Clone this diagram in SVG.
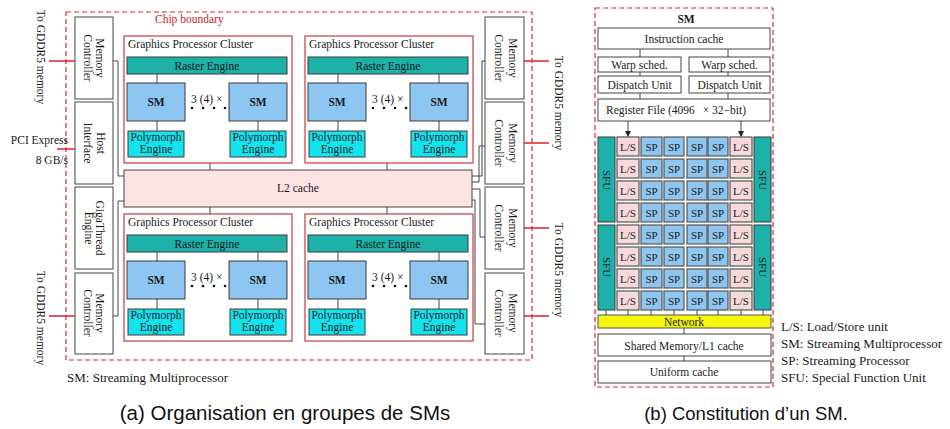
<svg xmlns="http://www.w3.org/2000/svg" width="950" height="429" viewBox="0 0 950 429">
  <defs>
    <style>
      text { font-family: "Liberation Serif", "Times New Roman", serif; fill: #1a1a1a; font-size: 11.5px; }
      .c { text-anchor: middle; }
      .e { text-anchor: end; }
      .b { font-weight: bold; }
      .lg { font-size: 13px; }
      .cap { font-family: "Liberation Sans", Arial, sans-serif; fill: #111; }
      .box { fill: #fff; stroke: #444; stroke-width: 1; }
      .gpc { fill: #fff; stroke: #c8393b; stroke-width: 1.2; }
      .raster { fill: #1db1a9; stroke: #3a3a3a; stroke-width: 1; }
      .smb { fill: #8dc6f1; stroke: #3a3a3a; stroke-width: 1; }
      .poly { fill: #14e3ee; stroke: #3a3a3a; stroke-width: 1; }
      .l2 { fill: #fde3e3; stroke: #444; stroke-width: 1; }
      .ls { fill: #f7d9db; stroke: #555; stroke-width: 1.2; }
      .sp { fill: #8ec6ef; stroke: #555; stroke-width: 1.2; }
      .sfu { fill: #1db1a9; stroke: #3a3a3a; stroke-width: 1; }
      .net { fill: #f4f40c; stroke: #555; stroke-width: 1; }
      .wire { fill: none; stroke: #444; stroke-width: 1; }
      .io { stroke: #e0202a; stroke-width: 1.6; }
      .dash { fill: none; stroke: #d42a36; stroke-width: 1.2; stroke-dasharray: 5 3; }
      .cell { font-size: 11px; }
    </style>
    <marker id="arr" viewBox="0 0 6 6" refX="5" refY="3" markerWidth="6" markerHeight="6" orient="auto">
      <path d="M0,0 L6,3 L0,6 Z" fill="#222"/>
    </marker>
  </defs>

  <!-- ===== Panel (a): GPU chip ===== -->
  <g id="chip-boundary">
    <rect class="dash" x="66" y="12" width="466" height="348"/>
    <text x="155" y="23" style="fill:#c8202a">Chip boundary</text>
  </g>

  <!-- left column -->
  <g id="mc-left-top">
    <rect class="box" x="75" y="17" width="38" height="82"/>
    <text class="c" transform="translate(95.5,58) rotate(90)">Memory</text>
    <text class="c" transform="translate(83.5,58) rotate(90)">Controller</text>
  </g>
  <g id="host-interface">
    <rect class="box" x="75" y="102" width="38" height="82"/>
    <text class="c" transform="translate(96.5,143) rotate(90)">Host</text>
    <text class="c" transform="translate(83.5,143) rotate(90)">Interface</text>
  </g>
  <g id="gigathread">
    <rect class="box" x="75" y="187" width="38" height="82"/>
    <text class="c" transform="translate(95.5,228) rotate(90)">GigaThread</text>
    <text class="c" transform="translate(84.5,228) rotate(90)">Engine</text>
  </g>
  <g id="mc-left-bottom">
    <rect class="box" x="75" y="273" width="38" height="81"/>
    <text class="c" transform="translate(95.5,313) rotate(90)">Memory</text>
    <text class="c" transform="translate(83.5,313) rotate(90)">Controller</text>
  </g>

  <!-- right column -->
  <g id="mc-right-1">
    <rect class="box" x="485" y="17" width="39" height="82"/>
    <text class="c" transform="translate(508.5,58) rotate(90)">Memory</text>
    <text class="c" transform="translate(494.5,58) rotate(90)">Controller</text>
  </g>
  <g id="mc-right-2">
    <rect class="box" x="485" y="102" width="39" height="82"/>
    <text class="c" transform="translate(508.5,143) rotate(90)">Memory</text>
    <text class="c" transform="translate(494.5,143) rotate(90)">Controller</text>
  </g>
  <g id="mc-right-3">
    <rect class="box" x="485" y="187" width="39" height="82"/>
    <text class="c" transform="translate(508.5,228) rotate(90)">Memory</text>
    <text class="c" transform="translate(494.5,228) rotate(90)">Controller</text>
  </g>
  <g id="mc-right-4">
    <rect class="box" x="485" y="273" width="39" height="81"/>
    <text class="c" transform="translate(508.5,313) rotate(90)">Memory</text>
    <text class="c" transform="translate(494.5,313) rotate(90)">Controller</text>
  </g>

  <!-- external links -->
  <g id="external-labels">
    <text class="c" transform="translate(36.5,57) rotate(90)">To GDDR5 memory</text>
    <text class="c" transform="translate(36.5,318) rotate(90)">To GDDR5 memory</text>
    <text class="c" transform="translate(554.5,103) rotate(90)">To GDDR5 memory</text>
    <text class="c" transform="translate(554.5,270) rotate(90)">To GDDR5 memory</text>
    <text class="e" x="68" y="144">PCI Express</text>
    <text class="e" x="68" y="164">8 GB/s</text>
  </g>

  <!-- L2 cache -->
  <g id="l2-cache">
    <rect class="l2" x="124" y="170" width="348" height="37"/>
    <text class="c" x="298" y="192">L2 cache</text>
  </g>

  <!-- GPC top-left -->
  <g id="gpc-1">
    <rect class="gpc" x="124" y="36" width="168" height="127"/>
    <text x="128" y="48">Graphics Processor Cluster</text>
    <rect class="raster" x="127" y="57" width="160" height="17"/>
    <text class="c" x="207" y="69.5">Raster Engine</text>
    <path class="wire" d="M157,74 V83 M258,74 V83 M157,121 V131 M258,121 V131"/>
    <rect class="smb" x="127" y="83" width="58" height="38"/>
    <rect class="smb" x="229" y="83" width="58" height="38"/>
    <text class="c b" x="156" y="106">SM</text>
    <text class="c b" x="258" y="106">SM</text>
    <rect class="poly" x="128" y="131" width="56" height="26"/>
    <rect class="poly" x="230" y="131" width="56" height="26"/>
    <text class="c" x="156" y="141">Polymorph</text>
    <text class="c" x="156" y="153">Engine</text>
    <text class="c" x="258" y="141">Polymorph</text>
    <text class="c" x="258" y="153">Engine</text>
    <text x="191" y="103">3 (4) ×</text>
    <g fill="#111"><circle cx="192" cy="108" r="1.3"/><circle cx="203" cy="108" r="1.3"/><circle cx="214" cy="108" r="1.3"/><circle cx="225" cy="108" r="1.3"/></g>
  </g>

  <!-- GPC top-right -->
  <g id="gpc-2">
    <rect class="gpc" x="305" y="36" width="168" height="127"/>
    <text x="309" y="48">Graphics Processor Cluster</text>
    <rect class="raster" x="308" y="57" width="160" height="17"/>
    <text class="c" x="388" y="69.5">Raster Engine</text>
    <path class="wire" d="M338,74 V83 M439,74 V83 M338,121 V131 M439,121 V131"/>
    <rect class="smb" x="308" y="83" width="58" height="38"/>
    <rect class="smb" x="410" y="83" width="58" height="38"/>
    <text class="c b" x="337" y="106">SM</text>
    <text class="c b" x="439" y="106">SM</text>
    <rect class="poly" x="309" y="131" width="56" height="26"/>
    <rect class="poly" x="411" y="131" width="56" height="26"/>
    <text class="c" x="337" y="141">Polymorph</text>
    <text class="c" x="337" y="153">Engine</text>
    <text class="c" x="439" y="141">Polymorph</text>
    <text class="c" x="439" y="153">Engine</text>
    <text x="372" y="103">3 (4) ×</text>
    <g fill="#111"><circle cx="373" cy="108" r="1.3"/><circle cx="384" cy="108" r="1.3"/><circle cx="395" cy="108" r="1.3"/><circle cx="406" cy="108" r="1.3"/></g>
  </g>

  <!-- GPC bottom-left -->
  <g id="gpc-3">
    <rect class="gpc" x="124" y="214" width="168" height="127"/>
    <text x="128" y="226">Graphics Processor Cluster</text>
    <rect class="raster" x="127" y="235" width="160" height="17"/>
    <text class="c" x="207" y="247.5">Raster Engine</text>
    <path class="wire" d="M157,252 V261 M258,252 V261 M157,299 V309 M258,299 V309"/>
    <rect class="smb" x="127" y="261" width="58" height="38"/>
    <rect class="smb" x="229" y="261" width="58" height="38"/>
    <text class="c b" x="156" y="284">SM</text>
    <text class="c b" x="258" y="284">SM</text>
    <rect class="poly" x="128" y="309" width="56" height="26"/>
    <rect class="poly" x="230" y="309" width="56" height="26"/>
    <text class="c" x="156" y="319">Polymorph</text>
    <text class="c" x="156" y="331">Engine</text>
    <text class="c" x="258" y="319">Polymorph</text>
    <text class="c" x="258" y="331">Engine</text>
    <text x="191" y="281">3 (4) ×</text>
    <g fill="#111"><circle cx="192" cy="286" r="1.3"/><circle cx="203" cy="286" r="1.3"/><circle cx="214" cy="286" r="1.3"/><circle cx="225" cy="286" r="1.3"/></g>
  </g>

  <!-- GPC bottom-right -->
  <g id="gpc-4">
    <rect class="gpc" x="305" y="214" width="168" height="127"/>
    <text x="309" y="226">Graphics Processor Cluster</text>
    <rect class="raster" x="308" y="235" width="160" height="17"/>
    <text class="c" x="388" y="247.5">Raster Engine</text>
    <path class="wire" d="M338,252 V261 M439,252 V261 M338,299 V309 M439,299 V309"/>
    <rect class="smb" x="308" y="261" width="58" height="38"/>
    <rect class="smb" x="410" y="261" width="58" height="38"/>
    <text class="c b" x="337" y="284">SM</text>
    <text class="c b" x="439" y="284">SM</text>
    <rect class="poly" x="309" y="309" width="56" height="26"/>
    <rect class="poly" x="411" y="309" width="56" height="26"/>
    <text class="c" x="337" y="319">Polymorph</text>
    <text class="c" x="337" y="331">Engine</text>
    <text class="c" x="439" y="319">Polymorph</text>
    <text class="c" x="439" y="331">Engine</text>
    <text x="372" y="281">3 (4) ×</text>
    <g fill="#111"><circle cx="373" cy="286" r="1.3"/><circle cx="384" cy="286" r="1.3"/><circle cx="395" cy="286" r="1.3"/><circle cx="406" cy="286" r="1.3"/></g>
  </g>

  <!-- chip connectors -->
  <g id="chip-connectors">
    <path class="wire" d="M210,163 V170 M387,163 V170 M210,207 V214 M387,207 V214"/>
    <path class="wire" d="M113,61 H118 V176 H124"/>
    <path class="wire" d="M113,316 H118 V201 H124"/>
    <path class="wire" d="M485,61 H482 V176 H472"/>
    <path class="wire" d="M485,146 H479 V182 H472"/>
    <path class="wire" d="M472,189 H480 V237 H485"/>
    <path class="wire" d="M472,200 H475 V324 H485"/>
    <path class="io" d="M49,61 H75 M57,149 H75 M49,316 H75"/>
    <path class="io" d="M524,61 H549 M524,143 H549 M524,228 H549 M524,316 H549"/>
  </g>

  <text x="67" y="382" class="lg">SM: Streaming Multiprocessor</text>
  <text class="cap c" x="285" y="420" style="font-size:20.5px">(a) Organisation en groupes de SMs</text>

  <!-- ===== Panel (b): one SM ===== -->
  <g id="sm-boundary">
    <rect class="dash" x="595" y="8" width="178" height="379"/>
    <text class="c b" x="686" y="23">SM</text>
  </g>
  <g id="instruction-cache">
    <rect class="box" x="598" y="28" width="172" height="21"/>
    <text class="c" x="684" y="43">Instruction cache</text>
  </g>
  <g id="warp-sched-1">
    <rect class="box" x="598" y="57" width="83" height="15"/>
    <text class="c" x="639.5" y="68.5">Warp sched.</text>
  </g>
  <g id="warp-sched-2">
    <rect class="box" x="689" y="57" width="81" height="15"/>
    <text class="c" x="729.5" y="68.5">Warp sched.</text>
  </g>
  <g id="dispatch-1">
    <rect class="box" x="598" y="76" width="83" height="17"/>
    <text class="c" x="639.5" y="88.5">Dispatch Unit</text>
  </g>
  <g id="dispatch-2">
    <rect class="box" x="689" y="76" width="81" height="17"/>
    <text class="c" x="729.5" y="88.5">Dispatch Unit</text>
  </g>
  <g id="register-file">
    <rect class="box" x="598" y="99" width="172" height="22"/>
    <text x="606" y="114">Register File (4096 <tspan dx="5">× 32−bit)</tspan></text>
  </g>

  <g id="sfu-units">
    <rect class="sfu" x="598" y="137" width="17" height="85"/>
    <rect class="sfu" x="598" y="225" width="17" height="85"/>
    <rect class="sfu" x="754" y="137" width="17" height="85"/>
    <rect class="sfu" x="754" y="225" width="17" height="85"/>
    <text class="c cell" transform="translate(603,180) rotate(90)">SFU</text>
    <text class="c cell" transform="translate(603,267) rotate(90)">SFU</text>
    <text class="c cell" transform="translate(759,180) rotate(90)">SFU</text>
    <text class="c cell" transform="translate(759,267) rotate(90)">SFU</text>
  </g>

  <g id="core-grid">
    <!-- rows every 22px, columns: L/S, SP x4, L/S -->
    <g id="row-1">
      <rect class="ls" x="617" y="137" width="22" height="19"/><rect class="sp" x="641" y="137" width="21" height="19"/><rect class="sp" x="664" y="137" width="20" height="19"/><rect class="sp" x="687" y="137" width="20" height="19"/><rect class="sp" x="708" y="137" width="20" height="19"/><rect class="ls" x="730" y="137" width="22" height="19"/>
      <text class="c cell" x="628" y="150.5">L/S</text><text class="c cell" x="651.5" y="150.5">SP</text><text class="c cell" x="674" y="150.5">SP</text><text class="c cell" x="697" y="150.5">SP</text><text class="c cell" x="718" y="150.5">SP</text><text class="c cell" x="741" y="150.5">L/S</text>
    </g>
    <g id="row-2">
      <rect class="ls" x="617" y="159" width="22" height="19"/><rect class="sp" x="641" y="159" width="21" height="19"/><rect class="sp" x="664" y="159" width="20" height="19"/><rect class="sp" x="687" y="159" width="20" height="19"/><rect class="sp" x="708" y="159" width="20" height="19"/><rect class="ls" x="730" y="159" width="22" height="19"/>
      <text class="c cell" x="628" y="172.5">L/S</text><text class="c cell" x="651.5" y="172.5">SP</text><text class="c cell" x="674" y="172.5">SP</text><text class="c cell" x="697" y="172.5">SP</text><text class="c cell" x="718" y="172.5">SP</text><text class="c cell" x="741" y="172.5">L/S</text>
    </g>
    <g id="row-3">
      <rect class="ls" x="617" y="181" width="22" height="19"/><rect class="sp" x="641" y="181" width="21" height="19"/><rect class="sp" x="664" y="181" width="20" height="19"/><rect class="sp" x="687" y="181" width="20" height="19"/><rect class="sp" x="708" y="181" width="20" height="19"/><rect class="ls" x="730" y="181" width="22" height="19"/>
      <text class="c cell" x="628" y="194.5">L/S</text><text class="c cell" x="651.5" y="194.5">SP</text><text class="c cell" x="674" y="194.5">SP</text><text class="c cell" x="697" y="194.5">SP</text><text class="c cell" x="718" y="194.5">SP</text><text class="c cell" x="741" y="194.5">L/S</text>
    </g>
    <g id="row-4">
      <rect class="ls" x="617" y="203" width="22" height="19"/><rect class="sp" x="641" y="203" width="21" height="19"/><rect class="sp" x="664" y="203" width="20" height="19"/><rect class="sp" x="687" y="203" width="20" height="19"/><rect class="sp" x="708" y="203" width="20" height="19"/><rect class="ls" x="730" y="203" width="22" height="19"/>
      <text class="c cell" x="628" y="216.5">L/S</text><text class="c cell" x="651.5" y="216.5">SP</text><text class="c cell" x="674" y="216.5">SP</text><text class="c cell" x="697" y="216.5">SP</text><text class="c cell" x="718" y="216.5">SP</text><text class="c cell" x="741" y="216.5">L/S</text>
    </g>
    <g id="row-5">
      <rect class="ls" x="617" y="225" width="22" height="19"/><rect class="sp" x="641" y="225" width="21" height="19"/><rect class="sp" x="664" y="225" width="20" height="19"/><rect class="sp" x="687" y="225" width="20" height="19"/><rect class="sp" x="708" y="225" width="20" height="19"/><rect class="ls" x="730" y="225" width="22" height="19"/>
      <text class="c cell" x="628" y="238.5">L/S</text><text class="c cell" x="651.5" y="238.5">SP</text><text class="c cell" x="674" y="238.5">SP</text><text class="c cell" x="697" y="238.5">SP</text><text class="c cell" x="718" y="238.5">SP</text><text class="c cell" x="741" y="238.5">L/S</text>
    </g>
    <g id="row-6">
      <rect class="ls" x="617" y="247" width="22" height="19"/><rect class="sp" x="641" y="247" width="21" height="19"/><rect class="sp" x="664" y="247" width="20" height="19"/><rect class="sp" x="687" y="247" width="20" height="19"/><rect class="sp" x="708" y="247" width="20" height="19"/><rect class="ls" x="730" y="247" width="22" height="19"/>
      <text class="c cell" x="628" y="260.5">L/S</text><text class="c cell" x="651.5" y="260.5">SP</text><text class="c cell" x="674" y="260.5">SP</text><text class="c cell" x="697" y="260.5">SP</text><text class="c cell" x="718" y="260.5">SP</text><text class="c cell" x="741" y="260.5">L/S</text>
    </g>
    <g id="row-7">
      <rect class="ls" x="617" y="269" width="22" height="19"/><rect class="sp" x="641" y="269" width="21" height="19"/><rect class="sp" x="664" y="269" width="20" height="19"/><rect class="sp" x="687" y="269" width="20" height="19"/><rect class="sp" x="708" y="269" width="20" height="19"/><rect class="ls" x="730" y="269" width="22" height="19"/>
      <text class="c cell" x="628" y="282.5">L/S</text><text class="c cell" x="651.5" y="282.5">SP</text><text class="c cell" x="674" y="282.5">SP</text><text class="c cell" x="697" y="282.5">SP</text><text class="c cell" x="718" y="282.5">SP</text><text class="c cell" x="741" y="282.5">L/S</text>
    </g>
    <g id="row-8">
      <rect class="ls" x="617" y="291" width="22" height="19"/><rect class="sp" x="641" y="291" width="21" height="19"/><rect class="sp" x="664" y="291" width="20" height="19"/><rect class="sp" x="687" y="291" width="20" height="19"/><rect class="sp" x="708" y="291" width="20" height="19"/><rect class="ls" x="730" y="291" width="22" height="19"/>
      <text class="c cell" x="628" y="304.5">L/S</text><text class="c cell" x="651.5" y="304.5">SP</text><text class="c cell" x="674" y="304.5">SP</text><text class="c cell" x="697" y="304.5">SP</text><text class="c cell" x="718" y="304.5">SP</text><text class="c cell" x="741" y="304.5">L/S</text>
    </g>
  </g>

  <g id="network">
    <rect class="net" x="598" y="315" width="173" height="13"/>
    <text class="c" x="684" y="325.5">Network</text>
  </g>
  <g id="shared-memory">
    <rect class="box" x="598" y="334" width="173" height="22"/>
    <text class="c" x="684" y="349.5">Shared Memory/L1 cache</text>
  </g>
  <g id="uniform-cache">
    <rect class="box" x="598" y="361" width="173" height="22"/>
    <text class="c" x="684" y="376">Uniform cache</text>
  </g>

  <!-- SM connectors -->
  <g id="sm-connectors">
    <path class="wire" d="M640,49 V57 M728,49 V57 M640,72 V76 M728,72 V76 M640,93 V99 M728,93 V99"/>
    <path class="wire" d="M628,121 V136" marker-end="url(#arr)"/>
    <path class="wire" d="M741,121 V136" marker-end="url(#arr)"/>
    <path class="wire" d="M606,310 V315 M628,310 V315 M651,310 V315 M674,310 V315 M697,310 V315 M718,310 V315 M741,310 V315 M763,310 V315"/>
    <path class="wire" d="M684,328 V334 M684,356 V361"/>
  </g>

  <g id="legend">
    <text class="lg" x="781" y="331">L/S: Load/Store unit</text>
    <text class="lg" x="781" y="348">SM: Streaming Multiprocessor</text>
    <text class="lg" x="781" y="365">SP: Streaming Processor</text>
    <text class="lg" x="781" y="382">SFU: Special Function Unit</text>
  </g>

  <text class="cap c" x="746" y="420" style="font-size:18.5px">(b) Constitution d’un SM.</text>
</svg>
